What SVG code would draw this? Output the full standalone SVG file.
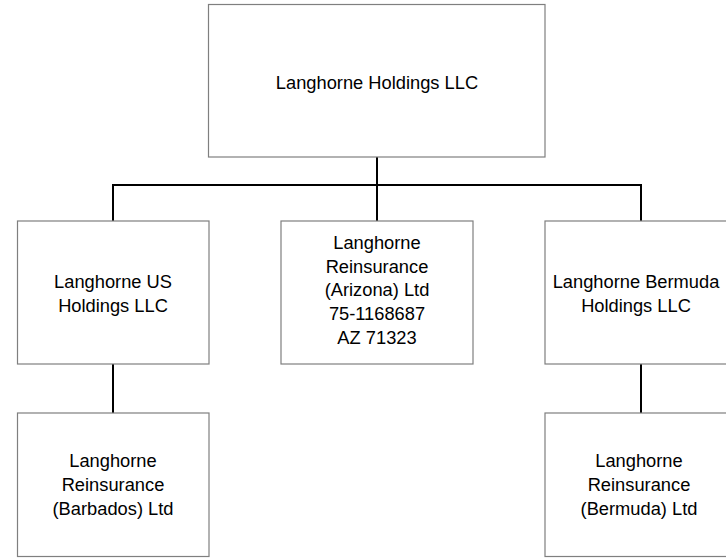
<svg xmlns="http://www.w3.org/2000/svg" width="726" height="558" viewBox="0 0 726 558">
<style>
.box{fill:#fff;stroke:#7f7f7f;stroke-width:1.2}
.t{font-family:"Liberation Sans",Arial,sans-serif;font-size:18.3px;fill:#000;text-anchor:middle}
.c{stroke:#000;stroke-width:2;fill:none}
</style>
<rect width="726" height="558" fill="#fff"/>
<g id="connectors">
<path class="c" d="M377,157 V185 M113,221 V185 H641 V221 M377,185 V221 M113,364 V413 M641,364 V413"/>
</g>
<g id="n-holdings">
<rect class="box" x="208.5" y="4.5" width="336.5" height="152.5"/>
<text class="t" x="377" y="88.5">Langhorne Holdings LLC</text>
</g>
<g id="n-us">
<rect class="box" x="17.5" y="221" width="191.5" height="143"/>
<text class="t" x="113" y="287.5">Langhorne US</text>
<text class="t" x="113" y="311.5">Holdings LLC</text>
</g>
<g id="n-arizona">
<rect class="box" x="281" y="221" width="192" height="143"/>
<text class="t" x="377" y="249">Langhorne</text>
<text class="t" x="377" y="272.7">Reinsurance</text>
<text class="t" x="377" y="296.4">(Arizona) Ltd</text>
<text class="t" x="377" y="320.1">75-1168687</text>
<text class="t" x="377" y="343.8">AZ 71323</text>
</g>
<g id="n-bermuda-holdings">
<rect class="box" x="545" y="221" width="192" height="143"/>
<text class="t" x="636" y="287.5">Langhorne Bermuda</text>
<text class="t" x="636" y="311.5">Holdings LLC</text>
</g>
<g id="n-barbados">
<rect class="box" x="17.5" y="413" width="191.5" height="143.5"/>
<text class="t" x="113" y="466.5">Langhorne</text>
<text class="t" x="113" y="490.5">Reinsurance</text>
<text class="t" x="113" y="514.5">(Barbados) Ltd</text>
</g>
<g id="n-bermuda">
<rect class="box" x="545" y="413" width="192" height="143.5"/>
<text class="t" x="639" y="466.5">Langhorne</text>
<text class="t" x="639" y="490.5">Reinsurance</text>
<text class="t" x="639" y="514.5">(Bermuda) Ltd</text>
</g>
</svg>
